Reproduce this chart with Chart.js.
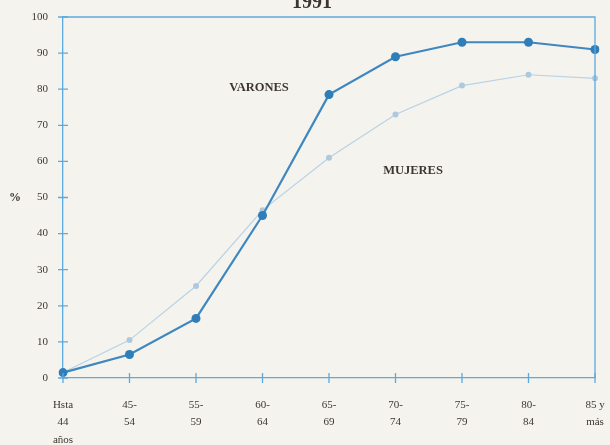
<!DOCTYPE html>
<html>
<head>
<meta charset="utf-8">
<script src="https://cdn.jsdelivr.net/npm/chart.js@4/dist/chart.umd.min.js"></script>
<style>
  html, body { margin: 0; padding: 0; background: #f4f3ee; }
  canvas { display: block; }
</style>
</head>
<body>
<canvas id="myChart" width="610" height="445"></canvas>
<script>
const categories = [['Hsta', '44', 'años'], ['45-', '54'], ['55-', '59'], ['60-', '64'], ['65-', '69'], ['70-', '74'], ['75-', '79'], ['80-', '84'], ['85 y', 'más']];
const varones = [1.5, 6.5, 16.5, 45, 78.5, 89, 93, 93, 91];
const mujeres = [1.5, 10.5, 25.5, 46.5, 61, 73, 81, 84, 83];
const yTicks = [0, 10, 20, 30, 40, 50, 60, 70, 80, 90, 100];

const axisColor = '#5fa9db';
const textColor = '#3d3630';

// frame, tick crosses and the hand-placed labels of the scan
const decor = {
    id: 'decor',
    afterDraw(chart) {
        const ctx = chart.ctx;
        const a = chart.chartArea;
        const x = chart.scales.x;
        const y = chart.scales.y;
        ctx.save();
        ctx.strokeStyle = axisColor;
        ctx.lineWidth = 1.3;
        ctx.beginPath();
        ctx.moveTo(a.left, a.top);
        ctx.lineTo(a.right, a.top);
        ctx.lineTo(a.right, a.bottom);
        ctx.stroke();
        ctx.beginPath();
        yTicks.forEach(v => {
            const py = y.getPixelForValue(v);
            ctx.moveTo(a.left - 5, py);
            ctx.lineTo(a.left + 5, py);
        });
        categories.forEach((c, i) => {
            const px = x.getPixelForValue(i);
            ctx.moveTo(px, a.bottom - 5);
            ctx.lineTo(px, a.bottom + 5);
        });
        ctx.stroke();

        ctx.fillStyle = textColor;
        ctx.textAlign = 'center';
        ctx.textBaseline = 'alphabetic';
        ctx.font = 'bold 20px "Liberation Serif"';
        ctx.fillText('1991', 312, 8);
        ctx.font = 'bold 12.5px "Liberation Serif"';
        ctx.textBaseline = 'middle';
        ctx.fillText('VARONES', 259, 88);
        ctx.fillText('MUJERES', 413, 171);
        ctx.font = 'bold 12px "Liberation Serif"';
        ctx.fillText('%', 15, y.getPixelForValue(50));
        ctx.restore();
    }
};

const ctx = document.getElementById('myChart').getContext('2d');
const myChart = new Chart(ctx, {
    type: 'line',
    data: {
        labels: categories,
        datasets: [{
            label: 'VARONES',
            data: varones,
            borderColor: '#3f87bf',
            backgroundColor: '#2f7db9',
            borderWidth: 2.2,
            pointRadius: 4.5,
            pointBorderWidth: 0,
            tension: 0
        }, {
            label: 'MUJERES',
            data: mujeres,
            borderColor: '#b8d2e6',
            backgroundColor: '#adc9df',
            borderWidth: 1.2,
            pointRadius: 3,
            pointBorderWidth: 0,
            tension: 0
        }]
    },
    options: {
        responsive: false,
        animation: false,
        layout: { padding: { top: 17, right: 15, left: 0, bottom: 0 } },
        plugins: {
            legend: { display: false },
            tooltip: { enabled: false }
        },
        scales: {
            x: {
                offset: false,
                grid: { display: false, drawTicks: false },
                border: { display: true, color: axisColor, width: 1.3 },
                ticks: {
                    padding: 18,
                    autoSkip: false,
                    maxRotation: 0,
                    color: textColor,
                    font: { family: '"Liberation Serif"', size: 11, lineHeight: 1.6 }
                },
                afterFit: scale => {
                    scale.height = 67;
                    scale.paddingLeft = 0;
                    scale.paddingRight = 0;
                }
            },
            y: {
                min: 0,
                max: 100,
                grid: { display: false, drawTicks: false },
                border: { display: true, color: axisColor, width: 1.3 },
                afterBuildTicks: scale => { scale.ticks = yTicks.map(v => ({ value: v })); },
                ticks: {
                    padding: 15,
                    color: textColor,
                    font: { family: '"Liberation Serif"', size: 11 }
                },
                afterFit: scale => {
                    scale.width = 63;
                    scale.paddingTop = 0;
                    scale.paddingBottom = 0;
                }
            }
        }
    },
    plugins: [decor]
});
</script>
</body>
</html>
